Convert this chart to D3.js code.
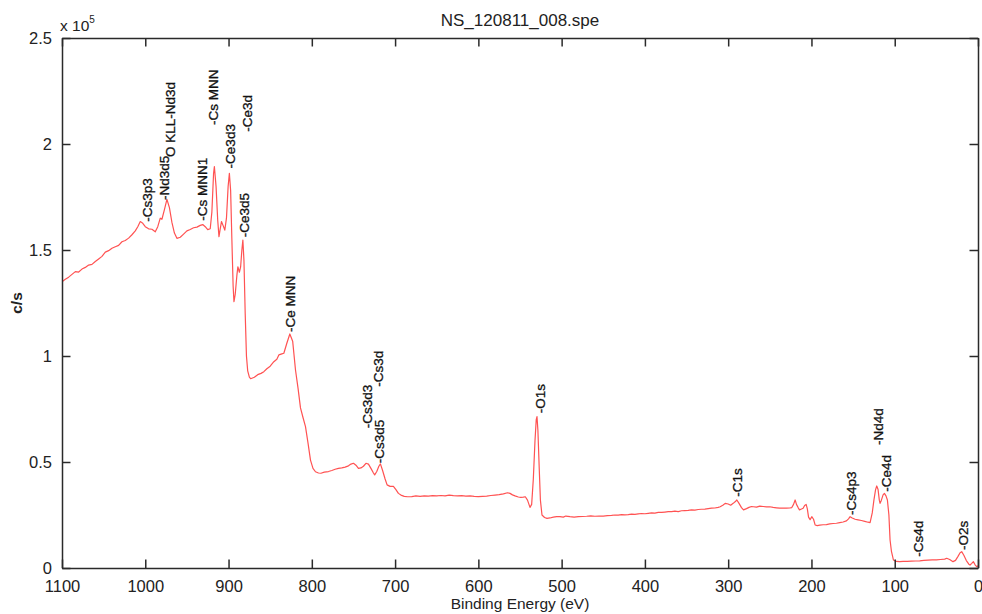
<!DOCTYPE html>
<html>
<head>
<meta charset="utf-8">
<script src="https://cdn.jsdelivr.net/npm/d3@7"></script>
<style>
  html, body { margin: 0; padding: 0; background: #fff; }
  svg { display: block; font-family: "Liberation Sans", Arial, sans-serif; }
</style>
</head>
<body>
<svg id="chart" width="982" height="614"></svg>
<script>
// XPS survey spectrum NS_120811_008.spe
const title = "NS_120811_008.spe";
const xLabel = "Binding Energy (eV)";
const yLabel = "c/s";
const yExponent = 5;

// Binding energy (eV), descending
const energy = [
  1100, 1096, 1092, 1088, 1084, 1080, 1076, 1072, 1068, 1064, 1060, 1056, 1052, 1048, 1044, 1040,
  1036, 1032, 1028, 1024, 1020, 1016, 1012, 1009, 1006, 1003, 1000, 996, 992, 988, 985, 982,
  980, 977, 974, 971, 968, 965, 962, 958, 954, 950, 946, 942, 938, 934, 931, 928,
  925, 922, 920, 918, 917, 915, 913, 911.5, 910, 908.5, 906.5, 904.5, 902.5, 900.5, 899, 897.5,
  896, 894.5, 893.5, 892, 890, 888.8, 887, 885.5, 884, 882.8, 881.5, 880, 878.5, 877, 875, 873.5,
  869, 865, 861, 857.6, 854, 850, 845.6, 842, 839.6, 836, 833.6, 830, 826.4, 823, 819.6, 816.6,
  813.6, 810.6, 807.6, 804.6, 801.6, 798.6, 795.6, 792, 789, 785, 780, 776, 772, 768, 764, 760,
  756, 753, 750, 747, 744, 741, 738, 735, 732, 729, 726, 724.5, 722, 719.5, 717.6, 715,
  712, 709.6, 706, 702, 699, 696, 693, 689, 685, 680, 675, 670, 665, 660, 655, 650,
  645, 640, 635, 630, 625, 620, 615, 610, 605, 600, 595, 590, 585, 580, 575, 570,
  565, 562, 559, 556, 552, 549, 546, 543.6, 541, 538, 536, 534, 532, 530.5, 529.6, 528.5,
  527, 525.5, 523.6, 520.5, 517.6, 514, 510, 506, 502, 498, 495, 490, 485, 480, 475, 470,
  465, 460, 455, 450, 445, 440, 436, 432, 428, 424, 420, 416, 412, 408, 404, 400,
  396, 392, 388, 384, 380, 376, 372, 368, 364, 360, 356, 352, 348, 344, 340, 336,
  332, 328, 324, 320, 316, 312, 309.6, 306, 303.6, 300, 297, 294, 291, 289.6, 287, 284,
  281.6, 278, 275, 272, 269.6, 266, 262, 258, 254, 250, 246, 242, 238, 234, 230, 226,
  223.6, 221.5, 219.6, 218, 216, 214.4, 212, 210, 208.2, 206.4, 205, 203.5, 201.6, 199.6, 197.5, 195.6,
  193, 190, 186, 182, 178, 174, 170, 166, 162, 158, 155.5, 153.6, 151, 147.6, 144, 140,
  136, 132, 129.6, 127, 125, 123, 121.6, 120, 118.5, 117.6, 116, 114, 112.4, 110.5, 108.8, 107,
  105.6, 104, 101.6, 98, 94, 90, 85, 80, 75, 70, 65, 60, 55, 50, 45, 40,
  37.6, 34, 30, 27, 24, 21.5, 19.6, 17, 14, 11, 9.6, 7.5, 5.6, 3.5, 1.6, 0
];

// Intensity (c/s) in units of 10^5
const intensity = [
  1.350, 1.362, 1.372, 1.385, 1.398, 1.396, 1.410, 1.418, 1.429, 1.432, 1.446, 1.458, 1.470, 1.490, 1.497, 1.508,
  1.515, 1.522, 1.539, 1.545, 1.556, 1.572, 1.590, 1.610, 1.634, 1.626, 1.610, 1.600, 1.598, 1.586, 1.610, 1.650,
  1.645, 1.690, 1.739, 1.700, 1.630, 1.580, 1.555, 1.560, 1.575, 1.590, 1.597, 1.605, 1.608, 1.616, 1.620, 1.610,
  1.596, 1.600, 1.680, 1.860, 1.893, 1.800, 1.640, 1.563, 1.600, 1.634, 1.615, 1.594, 1.650, 1.800, 1.862, 1.780,
  1.550, 1.330, 1.256, 1.290, 1.380, 1.421, 1.395, 1.420, 1.500, 1.547, 1.450, 1.200, 1.000, 0.930, 0.900, 0.893,
  0.900, 0.912, 0.918, 0.926, 0.940, 0.952, 0.973, 0.985, 1.005, 1.010, 1.013, 1.060, 1.104, 1.070, 0.934, 0.850,
  0.755, 0.710, 0.667, 0.590, 0.509, 0.470, 0.454, 0.448, 0.447, 0.452, 0.455, 0.460, 0.466, 0.470, 0.472, 0.476,
  0.482, 0.490, 0.494, 0.485, 0.470, 0.472, 0.480, 0.494, 0.490, 0.470, 0.448, 0.439, 0.455, 0.480, 0.491, 0.460,
  0.420, 0.392, 0.385, 0.385, 0.370, 0.352, 0.344, 0.338, 0.336, 0.337, 0.340, 0.338, 0.340, 0.339, 0.341, 0.340,
  0.342, 0.340, 0.344, 0.341, 0.340, 0.341, 0.339, 0.340, 0.338, 0.337, 0.338, 0.339, 0.342, 0.344, 0.346, 0.350,
  0.355, 0.352, 0.345, 0.340, 0.335, 0.333, 0.334, 0.336, 0.320, 0.286, 0.300, 0.420, 0.600, 0.700, 0.714, 0.650,
  0.480, 0.320, 0.250, 0.238, 0.234, 0.236, 0.240, 0.242, 0.242, 0.240, 0.245, 0.242, 0.240, 0.242, 0.243, 0.244,
  0.246, 0.244, 0.245, 0.245, 0.247, 0.248, 0.250, 0.249, 0.252, 0.251, 0.252, 0.254, 0.253, 0.255, 0.257, 0.256,
  0.258, 0.260, 0.259, 0.262, 0.262, 0.264, 0.266, 0.266, 0.268, 0.266, 0.270, 0.271, 0.272, 0.274, 0.273, 0.276,
  0.277, 0.278, 0.280, 0.282, 0.283, 0.286, 0.289, 0.297, 0.305, 0.302, 0.296, 0.305, 0.315, 0.321, 0.305, 0.285,
  0.274, 0.280, 0.286, 0.290, 0.289, 0.287, 0.292, 0.290, 0.288, 0.289, 0.286, 0.284, 0.282, 0.283, 0.282, 0.283,
  0.285, 0.300, 0.321, 0.300, 0.285, 0.274, 0.278, 0.282, 0.295, 0.300, 0.280, 0.240, 0.228, 0.242, 0.230, 0.203,
  0.200, 0.202, 0.204, 0.205, 0.208, 0.210, 0.211, 0.214, 0.217, 0.222, 0.232, 0.242, 0.236, 0.230, 0.227, 0.224,
  0.220, 0.216, 0.214, 0.260, 0.320, 0.370, 0.387, 0.370, 0.320, 0.305, 0.320, 0.345, 0.352, 0.340, 0.321, 0.250,
  0.132, 0.080, 0.038, 0.031, 0.030, 0.031, 0.031, 0.032, 0.033, 0.034, 0.036, 0.037, 0.038, 0.038, 0.040, 0.042,
  0.046, 0.040, 0.030, 0.036, 0.055, 0.072, 0.077, 0.060, 0.035, 0.018, 0.014, 0.022, 0.030, 0.015, 0.006, 0.010
];

// Peak identification labels: text, energy (eV), intensity at label foot (x10^5 c/s)
const peakNames = ["-Cs3p3", "-Nd3d5", "O KLL-Nd3d", "-Cs MNN1", "-Cs MNN", "-Ce3d3", "-Ce3d", "-Ce3d5",
  "-Ce MNN", "-Cs3d3", "-Cs3d", "-Cs3d5", "-O1s", "-C1s", "-Cs4p3", "-Nd4d", "-Ce4d", "-Cs4d", "-O2s"];
const peakEnergy = [997.6, 977.6, 969.6, 931.6, 918.4, 897.6, 877.6, 881.6,
  825.6, 733.6, 720.4, 718.8, 525.6, 288.8, 152.8, 119.6, 110.4, 71.6, 18.4];
const peakLevel = [1.633, 1.736, 1.939, 1.638, 2.090, 1.885, 2.058, 1.560,
  1.113, 0.659, 0.855, 0.494, 0.730, 0.336, 0.250, 0.580, 0.360, 0.053, 0.085];

const xTicks = [1100, 1000, 900, 800, 700, 600, 500, 400, 300, 200, 100, 0];
const yTicks = [0, 0.5, 1, 1.5, 2, 2.5];

const svg = d3.select("#chart");
const margin = { left: 62, right: 4, top: 38, bottom: 46 };
const W = 982, H = 614;
const iw = W - margin.left - margin.right;
const ih = H - margin.top - margin.bottom;

const x = d3.scaleLinear().domain([1100, 0]).range([0, iw]);
const y = d3.scaleLinear().domain([0, 2.5]).range([ih, 0]);

const g = svg.append("g").attr("transform", `translate(${margin.left},${margin.top})`);

const clip = svg.append("defs").append("clipPath").attr("id", "plotclip");
clip.append("rect").attr("x", 0).attr("y", 0).attr("width", iw).attr("height", ih);

// spectrum trace
const pts = energy.map((e, i) => [e, intensity[i]]);
g.append("path")
  .datum(pts)
  .attr("clip-path", "url(#plotclip)")
  .attr("fill", "none")
  .attr("stroke", "#ff5252")
  .attr("stroke-width", 1.2)
  .attr("stroke-linejoin", "round")
  .attr("d", d3.line().x(d => x(d[0])).y(d => y(d[1])));

// axes with inward ticks on all four sides
const tickLen = 8.5;
const fmtX = d3.format("d");
const fmtY = d => d3.format("~g")(d);
const axStyle = sel => {
  sel.selectAll(".domain").attr("stroke", "#2a2a2a").attr("stroke-width", 1.5);
  sel.selectAll(".tick line").attr("stroke", "#2a2a2a").attr("stroke-width", 1.5);
  sel.selectAll("text").attr("fill", "#222").style("font-size", "16.5px");
};

g.append("g").attr("transform", `translate(0,${ih})`)
  .call(d3.axisBottom(x).tickValues(xTicks).tickSizeInner(-tickLen).tickSizeOuter(0).tickPadding(12).tickFormat(fmtX))
  .call(axStyle);
g.append("g")
  .call(d3.axisTop(x).tickValues(xTicks).tickSizeInner(-tickLen).tickSizeOuter(0).tickFormat(""))
  .call(axStyle);
g.append("g")
  .call(d3.axisLeft(y).tickValues(yTicks).tickSizeInner(-tickLen).tickSizeOuter(0).tickPadding(10).tickFormat(fmtY))
  .call(axStyle);
g.append("g").attr("transform", `translate(${iw},0)`)
  .call(d3.axisRight(y).tickValues(yTicks).tickSizeInner(-tickLen).tickSizeOuter(0).tickFormat(""))
  .call(axStyle);

// peak labels, rotated, reading upward from the peak
g.selectAll("text.peak")
  .data(peakNames)
  .join("text")
  .attr("class", "peak")
  .attr("transform", (d, i) => `translate(${x(peakEnergy[i])},${y(peakLevel[i])}) rotate(-90)`)
  .attr("dy", "0.36em")
  .attr("text-anchor", "start")
  .attr("fill", "#111")
  .attr("stroke", "#111")
  .attr("stroke-width", 0.3)
  .style("font-size", "13.5px")
  .text(d => d);

// title
svg.append("text")
  .attr("x", margin.left + iw / 2).attr("y", 26)
  .attr("text-anchor", "middle").attr("fill", "#222")
  .style("font-size", "17px")
  .text(title);

// x axis title
svg.append("text")
  .attr("x", margin.left + iw / 2).attr("y", 609)
  .attr("text-anchor", "middle").attr("fill", "#222")
  .style("font-size", "15.5px")
  .text(xLabel);

// y axis title
svg.append("text")
  .attr("transform", `translate(22,${margin.top + ih / 2}) rotate(-90)`)
  .attr("text-anchor", "middle").attr("fill", "#222")
  .style("font-size", "15.5px").style("font-weight", "bold")
  .text(yLabel);

// exponent marker
const expo = svg.append("text")
  .attr("x", 60).attr("y", 31).attr("fill", "#222")
  .style("font-size", "15.5px");
expo.append("tspan").text("x 10");
expo.append("tspan").attr("dy", -8).style("font-size", "10px").text(yExponent);
</script>
</body>
</html>
